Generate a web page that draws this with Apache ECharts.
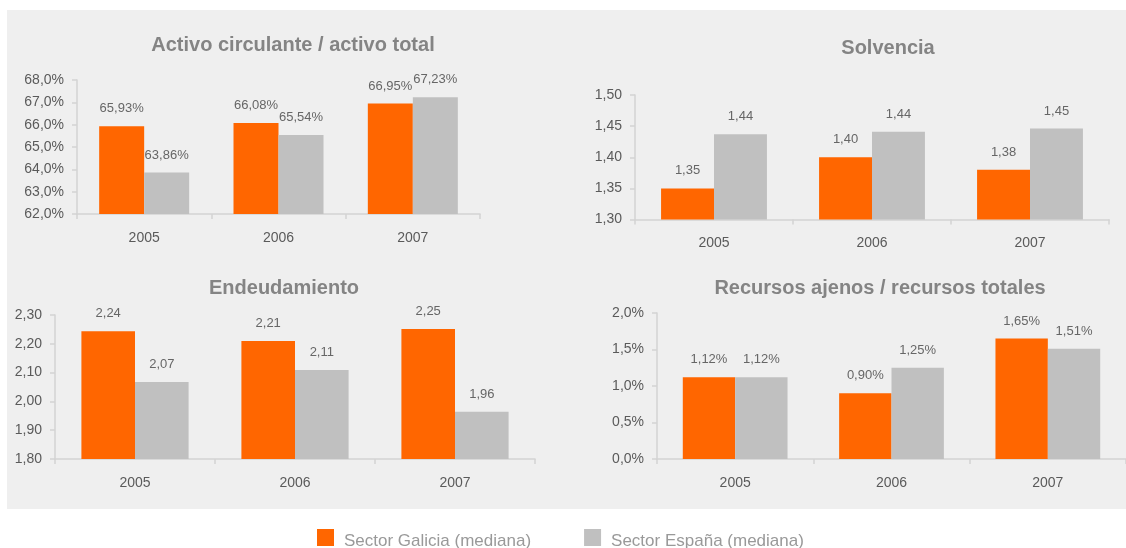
<!DOCTYPE html>
<html>
<head>
<meta charset="utf-8">
<script src="https://cdn.jsdelivr.net/npm/echarts@6/dist/echarts.min.js"></script>
<style>
html,body{margin:0;padding:0;background:#ffffff;}
#chart{width:1126px;height:548px;}
</style>
</head>
<body>
<div id="chart"></div>
<script>
const categories = ['2005', '2006', '2007'];
const seriesNames = ['Sector Galicia (mediana)', 'Sector España (mediana)'];
const titles = ['Activo circulante / activo total', 'Solvencia', 'Endeudamiento', 'Recursos ajenos / recursos totales'];

const activoGalicia = [65.93, 66.08, 66.95];
const activoEspana = [63.86, 65.54, 67.23];
const solvenciaGalicia = [1.35, 1.40, 1.38];
const solvenciaEspana = [1.437, 1.441, 1.446];
const endeudGalicia = [2.244, 2.21, 2.251];
const endeudEspana = [2.067, 2.109, 1.964];
const recursosGalicia = [1.12, 0.90, 1.65];
const recursosEspana = [1.12, 1.25, 1.51];

const activoTicks = [62, 63, 64, 65, 66, 67, 68];
const solvenciaTicks = [1.30, 1.35, 1.40, 1.45, 1.50];
const endeudTicks = [1.80, 1.90, 2.00, 2.10, 2.20, 2.30];
const recursosTicks = [0, 0.5, 1.0, 1.5, 2.0];

const ORANGE = '#FF6600';
const GRAY = '#C0C0C0';

const fmtPct1 = v => v.toFixed(1).replace('.', ',') + '%';
const fmtDec2 = v => v.toFixed(2).replace('.', ',');
const fmtPct2 = v => v.toFixed(2).replace('.', ',') + '%';

const panels = [
  { ticks: activoTicks, g: activoGalicia, e: activoEspana, yFmt: fmtPct1, lFmt: fmtPct2,
    grid: { left: 77, top: 80, width: 403, height: 134 }, title: [293, 45] },
  { ticks: solvenciaTicks, g: solvenciaGalicia, e: solvenciaEspana, yFmt: fmtDec2, lFmt: fmtDec2,
    grid: { left: 635, top: 95, width: 474, height: 124.5 }, title: [888, 48] },
  { ticks: endeudTicks, g: endeudGalicia, e: endeudEspana, yFmt: fmtDec2, lFmt: fmtDec2,
    grid: { left: 55, top: 315, width: 480, height: 144 }, title: [284, 288] },
  { ticks: recursosTicks, g: recursosGalicia, e: recursosEspana, yFmt: fmtPct1, lFmt: fmtPct2,
    grid: { left: 657, top: 313, width: 472, height: 146 }, title: [880, 288] }
];

const axisLineStyle = { color: '#d3d3d3', width: 1.5 };
const FONT = 'Liberation Sans, Arial, sans-serif';
// square drawn at the top of a taller icon box so the text sits lower, as in the source
const legendIcon = 'path://M0,0L17,0L17,17L0,17Z M0,24L0.01,24';

const option = {
  animation: false,
  backgroundColor: '#ffffff',
  graphic: [{
    type: 'rect', z: -100, silent: true,
    shape: { x: 7, y: 10, width: 1119, height: 499 },
    style: { fill: '#EFEFEF' }
  }],
  title: panels.map((p, i) => ({
    text: titles[i],
    left: p.title[0], top: p.title[1] - 11,
    textAlign: 'center',
    padding: 0,
    textStyle: { fontFamily: FONT, fontSize: 20, fontWeight: 'bold', color: '#848484', lineHeight: 22 }
  })),
  legend: {
    data: seriesNames,
    left: 317, top: 529,
    itemWidth: 17, itemHeight: 24, itemGap: 53,
    icon: legendIcon,
    padding: 0,
    textStyle: { fontFamily: FONT, fontSize: 17, color: '#999999', padding: [0, 0, 0, 5] }
  },
  grid: panels.map(p => Object.assign({ containLabel: false }, p.grid)),
  xAxis: panels.map((p, i) => ({
    type: 'category', gridIndex: i, data: categories,
    axisLine: { lineStyle: axisLineStyle },
    axisTick: { show: true, length: 5, lineStyle: axisLineStyle },
    axisLabel: { fontFamily: FONT, fontSize: 14, color: '#5a5a5a', margin: 17 }
  })),
  yAxis: panels.map((p, i) => {
    const t = p.ticks;
    const interval = Math.round((t[1] - t[0]) * 1000) / 1000;
    return {
      type: 'value', gridIndex: i,
      min: t[0], max: t[t.length - 1], interval: interval,
      splitLine: { show: false },
      axisLine: { show: true, lineStyle: axisLineStyle },
      axisTick: { show: true, length: 5, lineStyle: axisLineStyle },
      axisLabel: { fontFamily: FONT, fontSize: 14, color: '#5a5a5a', margin: 13, formatter: p.yFmt }
    };
  }),
  series: panels.flatMap((p, i) => [
    { name: seriesNames[0], data: p.g, color: ORANGE },
    { name: seriesNames[1], data: p.e, color: GRAY }
  ].map(s => ({
    type: 'bar', name: s.name, data: s.data,
    xAxisIndex: i, yAxisIndex: i,
    itemStyle: { color: s.color },
    barGap: '0%', barCategoryGap: '33%',
    label: { show: true, position: 'top', distance: 11, fontFamily: FONT, fontSize: 13, color: '#666666',
             formatter: d => p.lFmt(d.value) }
  })))
};

const chart = echarts.init(document.getElementById('chart'), null, { renderer: 'canvas' });
chart.setOption(option);
</script>
</body>
</html>
